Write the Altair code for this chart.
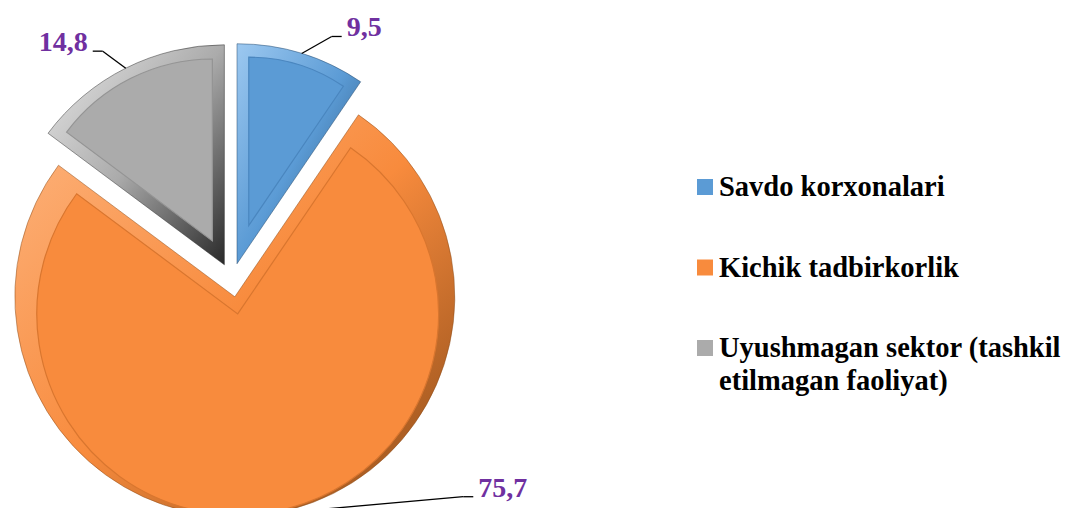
import altair as alt
import pandas as pd

# ---- data ----
categories = [
    "Savdo korxonalari",
    "Kichik tadbirkorlik",
    "Uyushmagan sektor (tashkil etilmagan faoliyat)",
]
values = [9.5, 75.7, 14.8]
value_labels = ["9,5", "75,7", "14,8"]

# ---- styles ----
colors = ["#5B9BD5", "#F88B3D", "#ABABAB"]
rim_stops = [
    ["#9CC8F0", "#5B9BD5", "#1F4468"],
    ["#FDB47E", "#F88B3D", "#8A4A17"],
    ["#E8E8E8", "#ABABAB", "#2A2A2A"],
]
groove = ["#4A86BF", "#D9762F", "#949494"]
LABEL_COLOR = "#7030A0"
SERIF = "'Times New Roman', 'Liberation Serif', serif"

CX, CY, R, EXPLODE, BEVEL = 224, 272, 220, 17, 12

df = pd.DataFrame({
    "category": categories,
    "value": values,
    "label": value_labels,
    "order": list(range(len(categories))),
})

color_scale = alt.Scale(domain=categories, range=colors)

base = (
    alt.Chart(df)
    .transform_window(cum="sum(value)", sort=[alt.SortField("order")], frame=[None, 0])
    .transform_joinaggregate(total="sum(value)")
    .transform_calculate(
        t1="datum.cum / datum.total * 2 * PI",
        t0="(datum.cum - datum.value) / datum.total * 2 * PI",
    )
    .transform_calculate(
        mid="(datum.t0 + datum.t1) / 2",
        half="(datum.t1 - datum.t0) / 2",
    )
    .transform_calculate(
        cx=f"{CX} + {EXPLODE} * sin(datum.mid)",
        cy=f"{CY} - {EXPLODE} * cos(datum.mid)",
        shift=f"{BEVEL} / max(sin(datum.half), 0.3)",
        side="cos(datum.mid) < -0.9 ? 1 : (sin(datum.mid) >= 0 ? 1 : -1)",
    )
    .transform_calculate(
        icx="datum.cx + datum.shift * sin(datum.mid)",
        icy="datum.cy - datum.shift * cos(datum.mid)",
        ir=f"sqrt(pow({R - BEVEL}, 2) - pow(datum.shift * sin(datum.half / 2), 2)) - datum.shift * cos(datum.half / 2)",
        sx=f"datum.cx + {R} * sin(datum.mid)",
        sy=f"datum.cy - {R} * cos(datum.mid)",
    )
    .transform_calculate(
        ex="datum.sx + (cos(datum.mid) < -0.9 ? 192 : (datum.side > 0 ? 30 : -23))",
        ey="datum.sy - 17",
    )
    .transform_calculate(
        hx="datum.ex + datum.side * 10",
        tx="datum.ex + datum.side * 15",
    )
)

arc_enc = dict(
    theta=alt.Theta("t0:Q", scale=None),
    theta2=alt.Theta2("t1:Q"),
)

layers = []
# outer bevel rim per slice (gradient lighting from top-left)
for i in range(len(categories)):
    stops = rim_stops[i]
    grad = {
        "gradient": "linear", "x1": 0, "y1": 0, "x2": 1, "y2": 1,
        "stops": [
            {"offset": 0, "color": stops[0]},
            {"offset": 0.5, "color": stops[1]},
            {"offset": 1, "color": stops[2]},
        ],
    }
    layers.append(
        base.transform_filter(f"datum.order == {i}")
        .mark_arc(radius=R, fill=grad, stroke=stops[2], strokeWidth=0.8, strokeOpacity=0.6)
        .encode(x=alt.X("cx:Q", scale=None), y=alt.Y("cy:Q", scale=None), **arc_enc)
    )
    layers.append(
        base.transform_filter(f"datum.order == {i}")
        .mark_arc(fill=colors[i], stroke=groove[i], strokeWidth=1.2)
        .encode(
            x=alt.X("icx:Q", scale=None),
            y=alt.Y("icy:Q", scale=None),
            radius=alt.Radius("ir:Q", scale=None),
            **arc_enc,
        )
    )

# leader lines
leader1 = base.mark_rule(color="black", strokeWidth=1.3).encode(
    x=alt.X("sx:Q", scale=None), y=alt.Y("sy:Q", scale=None),
    x2="ex:Q", y2="ey:Q",
)
leader2 = base.mark_rule(color="black", strokeWidth=1.3).encode(
    x=alt.X("ex:Q", scale=None), y=alt.Y("ey:Q", scale=None),
    x2="hx:Q", y2="ey:Q",
)


def label_layer(cond, align):
    return base.transform_filter(cond).mark_text(
        font=SERIF, fontSize=28, fontWeight="bold", color=LABEL_COLOR,
        baseline="alphabetic", align=align,
    ).encode(
        x=alt.X("tx:Q", scale=None),
        y=alt.Y("ey:Q", scale=None),
        text="label:N",
    )


labels_r = label_layer("datum.side > 0", "left")
labels_l = label_layer("datum.side < 0", "right")

# legend (drawn from the categories)
LEG_X, LEG_Y, LEG_STEP = 697, 179, 80.5
legend_sq = base.transform_calculate(ly=f"{LEG_Y} + datum.order * {LEG_STEP}").mark_square(
    size=256, opacity=1
).encode(
    x=alt.value(LEG_X),
    y=alt.Y("ly:Q", scale=None),
    fill=alt.Fill("category:N", scale=color_scale, legend=None),
)
legend_txt = base.transform_calculate(
    lt=f"{LEG_Y} + 9 + datum.order * {LEG_STEP}",
    ltext="replace(datum.category, 'tashkil ', 'tashkil|')",
).mark_text(
    font=SERIF, fontSize=28.5, fontWeight="bold", color="black",
    align="left", baseline="alphabetic", lineBreak="|", lineHeight=33,
).encode(
    x=alt.value(LEG_X + 14),
    y=alt.Y("lt:Q", scale=None),
    text="ltext:N",
)

chart = (
    alt.layer(*layers, leader1, leader2, labels_r, labels_l, legend_sq, legend_txt)
    .properties(width=1059, height=500, autosize=alt.AutoSizeParams(type="none"), padding=0)
    .configure_view(stroke=None)
)

chart.save("out.html", embed_options={"renderer": "svg", "actions": False})
